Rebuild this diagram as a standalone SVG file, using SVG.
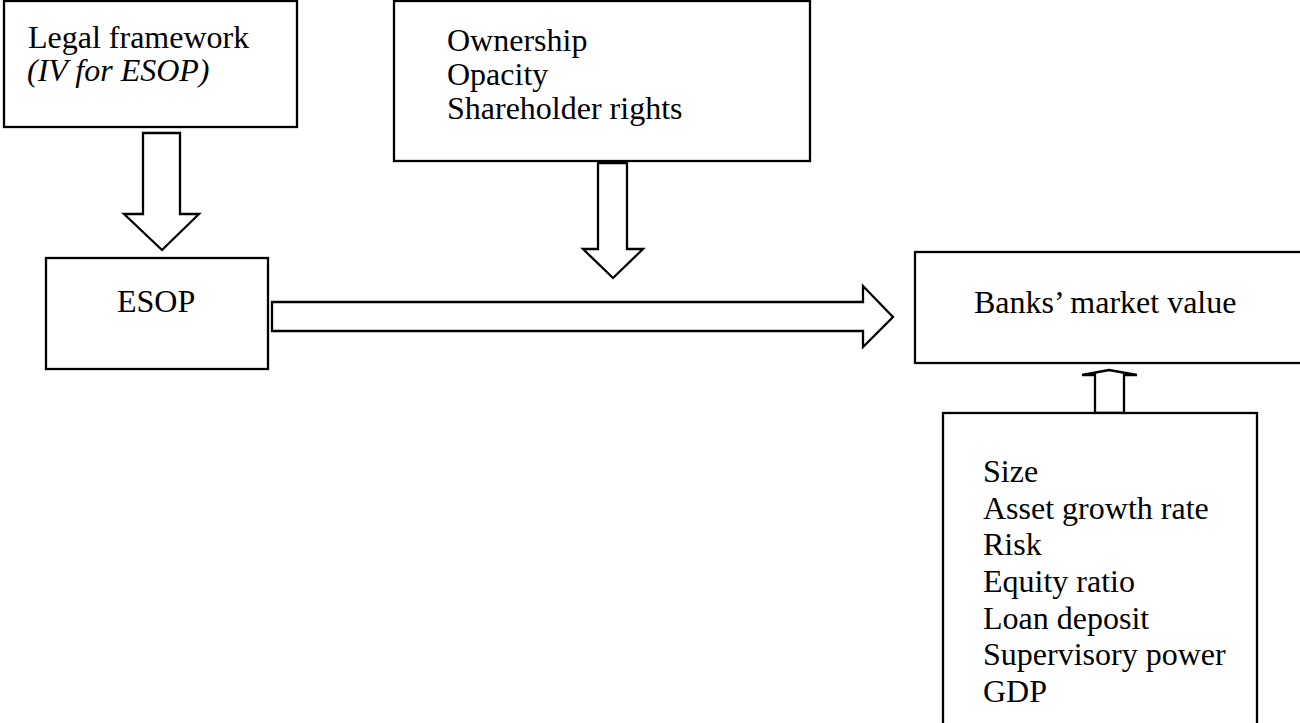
<svg xmlns="http://www.w3.org/2000/svg" width="1300" height="723" viewBox="0 0 1300 723">
<style>
.box{fill:#fff;stroke:#000;stroke-width:2.3}
.arr{fill:#fff;stroke:#000;stroke-width:2.3;stroke-linejoin:miter}
text{font-family:"Liberation Serif","Times New Roman",serif;font-size:32px;fill:#000}
.it{font-style:italic}
</style>
<rect width="1300" height="723" fill="#fff"/>
<g id="connectors">
<polygon class="arr" points="143,133 180,133 180,214 199,214 162,250 124,214 143,214"/>
<polygon class="arr" points="598,163 627,163 627,249 643,249 613,278 583,249 598,249"/>
<polygon class="arr" points="272,302 863,302 863,286 893,317 863,347 863,331 272,331"/>
<polygon class="arr" points="1095,413 1095,375 1082,375 1109,370 1137,375 1124,375 1124,413"/>
</g>
<g id="legal">
<rect class="box" x="4" y="1" width="293" height="126"/>
<text x="28" y="48">Legal framework</text>
<text class="it" x="27" y="81">(IV for ESOP)</text>
</g>
<g id="governance">
<rect class="box" x="394" y="1" width="416" height="160"/>
<text x="447" y="51">Ownership</text>
<text x="447" y="85">Opacity</text>
<text x="447" y="119">Shareholder rights</text>
</g>
<g id="esop">
<rect class="box" x="46" y="258" width="222" height="111"/>
<text x="117" y="312">ESOP</text>
</g>
<g id="value">
<rect class="box" x="915" y="252" width="390" height="111"/>
<text x="974" y="313">Banks’ market value</text>
</g>
<g id="controls">
<rect class="box" x="943" y="413" width="314" height="315"/>
<text x="983" y="482">Size</text>
<text x="983" y="518.7">Asset growth rate</text>
<text x="983" y="555.3">Risk</text>
<text x="983" y="592">Equity ratio</text>
<text x="983" y="628.7">Loan deposit</text>
<text x="983" y="665.3">Supervisory power</text>
<text x="983" y="702">GDP</text>
</g>
</svg>
